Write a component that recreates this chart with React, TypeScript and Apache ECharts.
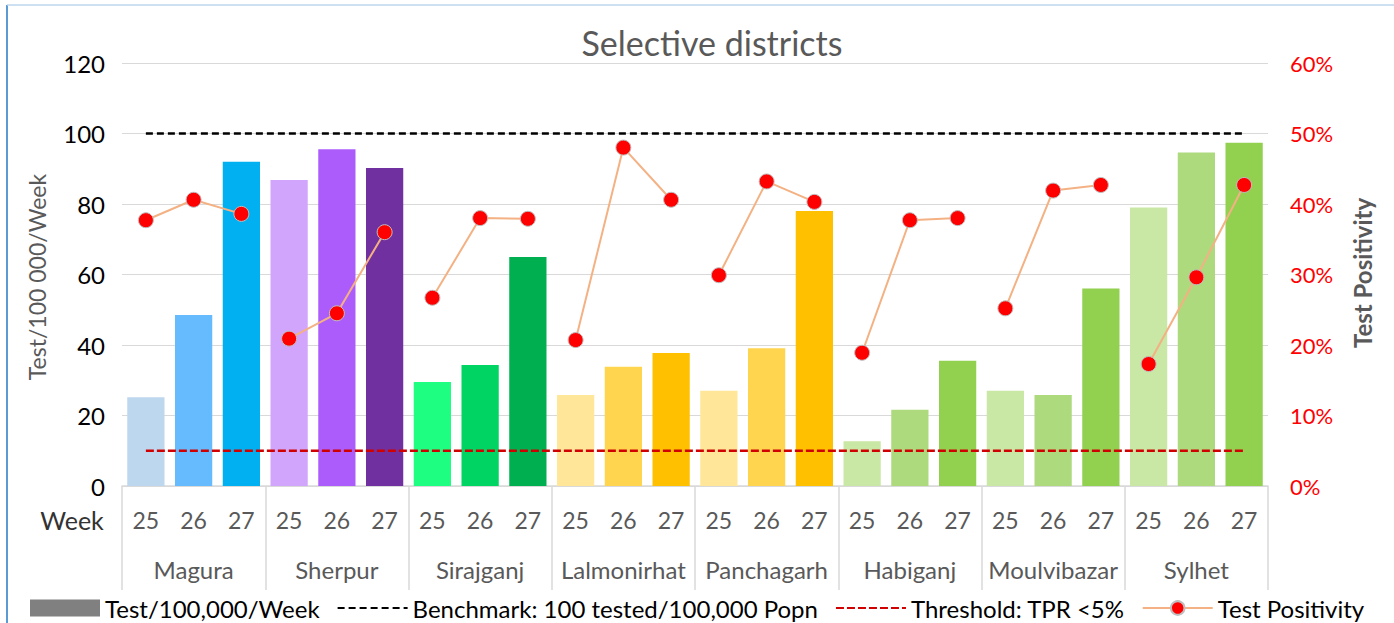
import React, { useEffect, useRef } from 'react';
import * as echarts from 'echarts';

const districts = ['Magura', 'Sherpur', 'Sirajganj', 'Lalmonirhat', 'Panchagarh', 'Habiganj', 'Moulvibazar', 'Sylhet'];
const weeks = ['25', '26', '27'];
const yTicks = [0, 20, 40, 60, 80, 100, 120];

// Test/100,000/Week per district x week
const testsPer100k = [
  25.2, 48.5, 92.0,
  86.8, 95.5, 90.2,
  29.5, 34.3, 65.0,
  25.8, 33.8, 37.7,
  27.0, 39.1, 78.0,
  12.7, 21.6, 35.5,
  27.0, 25.8, 56.0,
  79.0, 94.6, 97.4,
];
// Test positivity rate per district x week
const positivity = [
  0.377, 0.406, 0.386,
  0.209, 0.245, 0.360,
  0.267, 0.380, 0.379,
  0.207, 0.480, 0.406,
  0.299, 0.432, 0.403,
  0.189, 0.377, 0.380,
  0.252, 0.419, 0.427,
  0.173, 0.296, 0.427,
];
const barColors = [
  '#BDD7EE', '#66BBFF', '#00B0F0',
  '#D1A5FC', '#AD5CFC', '#7030A0',
  '#1EFF82', '#00D563', '#00B050',
  '#FFE699', '#FFD550', '#FFC000',
  '#FFE699', '#FFD550', '#FFC000',
  '#C9E7A5', '#AEDA7E', '#92D050',
  '#C9E7A5', '#AEDA7E', '#92D050',
  '#C9E7A5', '#AEDA7E', '#92D050',
];
const benchmark = 100;
const threshold = 0.05;

const FONT = 'Lato, "Open Sans", sans-serif';

export default function App() {
  const ref = useRef<HTMLDivElement>(null);
  useEffect(() => {
    if (!ref.current) return;
    const chart = echarts.init(ref.current, undefined, { renderer: 'svg' });
    const categories: string[] = [];
    districts.forEach((d) => weeks.forEach((w) => categories.push(d + ' ' + w)));
    const n = categories.length;

    const lineSeries = districts.map((d, di) => {
      const data: any[] = new Array(n).fill('-');
      for (let k = 0; k < 3; k++) data[di * 3 + k] = positivity[di * 3 + k];
      return {
        name: 'Test Positivity',
        type: 'line',
        yAxisIndex: 1,
        xAxisIndex: 0,
        data,
        symbol: 'circle',
        symbolSize: 15,
        connectNulls: false,
        lineStyle: { color: '#F4B183', width: 2 },
        itemStyle: { color: '#FF0000', borderColor: '#BFBFBF', borderWidth: 1 },
        z: 5,
      };
    });

    chart.setOption({
      animation: false,
      textStyle: { fontFamily: FONT },
      title: {
        text: 'Selective districts',
        left: 707,
        top: 20,
        textAlign: 'center',
        textStyle: { fontFamily: FONT, fontSize: 34, fontWeight: 'normal', color: '#595959' },
      },
      grid: { left: 122, right: 126, top: 63, bottom: 137 },
      legend: {
        left: 30,
        top: 596,
        padding: 0,
        itemWidth: 70,
        itemHeight: 17,
        itemGap: 17,
        textStyle: { fontFamily: FONT, fontSize: 24, color: '#000', lineHeight: 24, padding: [0, 0, 0, 0] },
        data: [
          { name: 'Test/100,000/Week', icon: 'rect' },
          { name: 'Benchmark: 100 tested/100,000 Popn', itemStyle: { opacity: 0 } },
          { name: 'Threshold: TPR <5%', itemStyle: { opacity: 0 } },
          { name: 'Test Positivity' },
        ],
      },
      xAxis: [
        {
          type: 'category',
          data: categories,
          position: 'bottom',
          axisLine: { show: true, lineStyle: { color: '#D9D9D9', width: 1.5 } },
          axisTick: { show: false },
          axisLabel: {
            interval: 0,
            formatter: (v: string) => v.split(' ')[1],
            color: '#595959',
            fontSize: 23,
            fontFamily: FONT,
            margin: 22,
          },
        },
        {
          type: 'category',
          data: districts,
          position: 'bottom',
          axisLine: { show: false },
          axisTick: { show: true, interval: 0, length: 104, lineStyle: { color: '#D9D9D9', width: 1.5 } },
          axisLabel: { interval: 0, color: '#595959', fontSize: 24, fontFamily: FONT, margin: 71 },
        },
      ],
      yAxis: [
        {
          type: 'value',
          min: yTicks[0],
          max: yTicks[yTicks.length - 1],
          interval: 20,
          axisLine: { show: false },
          axisTick: { show: false },
          axisLabel: { color: '#000', fontSize: 24, fontFamily: FONT, margin: 17 },
          splitLine: { lineStyle: { color: '#D9D9D9', width: 1 } },
        },
        {
          type: 'value',
          min: 0,
          max: 0.6,
          interval: 0.1,
          position: 'right',
          axisLine: { show: false },
          axisTick: { show: false },
          axisLabel: {
            color: '#FF0000',
            fontSize: 22,
            fontFamily: FONT,
            margin: 22,
            formatter: (v: number) => Math.round(v * 100) + '%',
          },
          splitLine: { show: false },
        },
      ],
      graphic: [
        { type: 'line', shape: { x1: 7, y1: 5, x2: 7, y2: 623 }, style: { stroke: '#5B9BD5', lineWidth: 2 } },
        { type: 'line', shape: { x1: 7, y1: 5, x2: 1394, y2: 5 }, style: { stroke: '#BDD7EE', lineWidth: 1.5 } },
        {
          type: 'text',
          x: 72,
          y: 520,
          style: { text: 'Week', font: '25px ' + FONT, fill: '#333', align: 'center', verticalAlign: 'middle' },
        },
        {
          type: 'text',
          x: 37,
          y: 277,
          rotation: Math.PI / 2,
          style: { text: 'Test/100 000/Week', font: '23px ' + FONT, fill: '#595959', align: 'center', verticalAlign: 'middle' },
        },
        {
          type: 'text',
          x: 1362,
          y: 273,
          rotation: Math.PI / 2,
          style: { text: 'Test Positivity', font: 'bold 24px ' + FONT, fill: '#595959', align: 'center', verticalAlign: 'middle' },
        },
      ],
      series: [
        {
          name: 'Test/100,000/Week',
          type: 'bar',
          xAxisIndex: 0,
          yAxisIndex: 0,
          barCategoryGap: '22%',
          itemStyle: { color: '#808080' },
          data: testsPer100k.map((v, i) => ({ value: v, itemStyle: { color: barColors[i] } })),
          z: 2,
        },
        {
          name: 'Benchmark: 100 tested/100,000 Popn',
          type: 'line',
          xAxisIndex: 0,
          yAxisIndex: 0,
          data: new Array(n).fill(benchmark),
          symbol: 'none',
          lineStyle: { color: '#000', width: 2.5, type: [7, 4] },
          itemStyle: { color: '#000' },
          z: 3,
        },
        {
          name: 'Threshold: TPR <5%',
          type: 'line',
          xAxisIndex: 0,
          yAxisIndex: 1,
          data: new Array(n).fill(threshold),
          symbol: 'none',
          lineStyle: { color: '#D00000', width: 2.5, type: [8, 3] },
          itemStyle: { color: '#D00000' },
          z: 3,
        },
        ...lineSeries,
      ],
    });
    return () => chart.dispose();
  }, []);
  return <div ref={ref} style={{ position: 'fixed', left: 0, top: 0, width: 1394, height: 623, background: '#fff' }} />;
}
